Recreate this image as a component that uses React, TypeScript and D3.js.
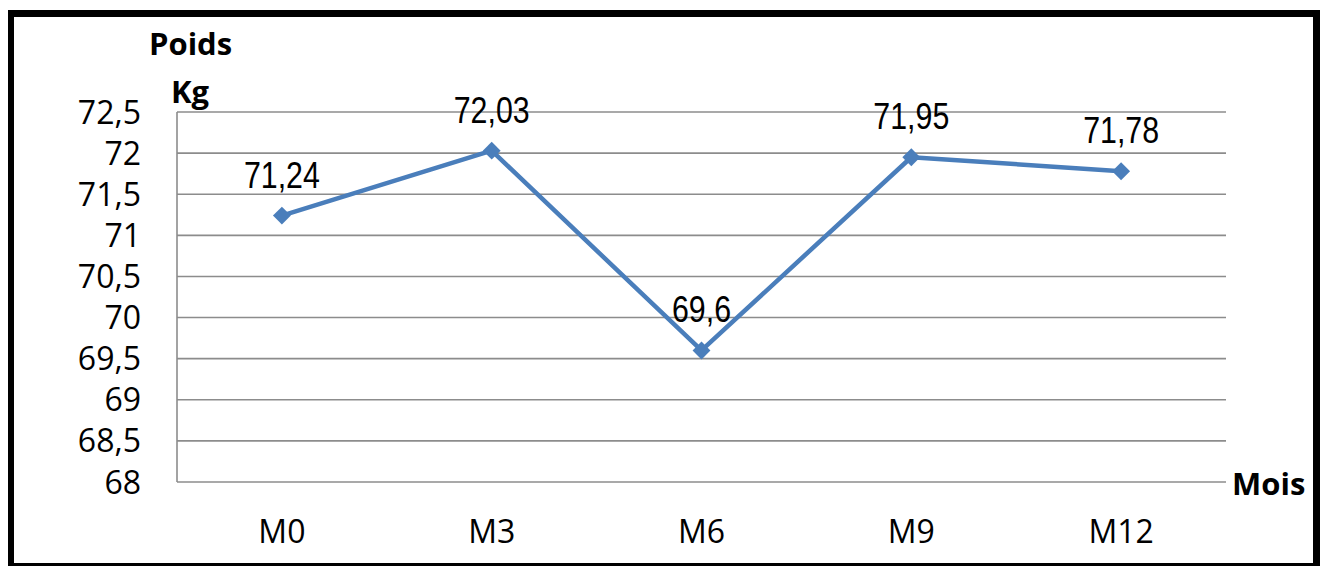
import * as d3 from 'd3';

const months = ['M0', 'M3', 'M6', 'M9', 'M12'];
const weights = [71.24, 72.03, 69.6, 71.95, 71.78];
const yTicks = [68, 68.5, 69, 69.5, 70, 70.5, 71, 71.5, 72, 72.5];

const W = 1322;
const H = 567;
const margin = { top: 112, right: 96, bottom: 85, left: 177 };

const fr = d3.formatLocale({ decimal: ',', thousands: ' ', grouping: [3], currency: ['', ' €'] });
const fmt = (v: number) => fr.format('~g')(v);

function App() {
  const x = d3
    .scaleBand<string>()
    .domain(months)
    .range([margin.left, W - margin.right]);
  const y = d3
    .scaleLinear()
    .domain([68, 72.5])
    .range([H - margin.bottom, margin.top]);
  const cx = (m: string) => (x(m) ?? 0) + x.bandwidth() / 2;

  const line = d3
    .line<number>()
    .x((_, i) => cx(months[i]))
    .y((d) => y(d));

  // square turned 45° = the spreadsheet diamond marker
  const marker = d3.symbol(d3.symbolSquare, 160)();
  const blue = '#4a7ebb';

  return (
    <svg width={W} height={H} style={{ position: 'absolute', left: 0, top: 0 }}>
      <rect x={0} y={0} width={W} height={H} fill="white" />
      {/* frame */}
      <rect x={8} y={10} width={6} height={556} fill="#000" />
      <rect x={8} y={10} width={1312} height={7} fill="#000" />
      <rect x={1313} y={10} width={7} height={556} fill="#000" />
      <rect x={8} y={563} width={1312} height={3} fill="#000" />

      {/* grid */}
      <g stroke="#8c8c8c" strokeWidth={1.6}>
        {yTicks.map((t) => (
          <line key={t} x1={margin.left} x2={W - margin.right} y1={y(t)} y2={y(t)} />
        ))}
        <line x1={margin.left} x2={margin.left} y1={margin.top} y2={H - margin.bottom} />
      </g>

      {/* y labels */}
      <g fontFamily="'Open Sans', sans-serif" fontSize={32} fill="#000" textAnchor="end">
        {yTicks.map((t) => (
          <text key={t} x={141} y={y(t)} dy="0.36em">
            {fmt(t)}
          </text>
        ))}
      </g>

      {/* x labels */}
      <g fontFamily="'Open Sans', sans-serif" fontSize={32} fill="#000" textAnchor="middle">
        {months.map((m) => (
          <text key={m} x={cx(m)} y={543}>
            {m}
          </text>
        ))}
      </g>

      {/* axis titles */}
      <g fontFamily="'Open Sans', sans-serif" fontSize={31} fontWeight="bold" fill="#000">
        <text x={149} y={55}>Poids</text>
        <text x={171} y={103}>Kg</text>
        <text x={1232} y={495}>Mois</text>
      </g>

      {/* series */}
      <path d={line(weights) ?? undefined} fill="none" stroke={blue} strokeWidth={4.5} strokeLinejoin="round" />
      {weights.map((v, i) => (
        <path
          key={i}
          d={marker ?? undefined}
          transform={`translate(${cx(months[i])},${y(v)}) rotate(45)`}
          fill={blue}
        />
      ))}

      {/* data labels */}
      <g fontFamily="'Liberation Sans', sans-serif" fontSize={37} fill="#000" textAnchor="middle">
        {weights.map((v, i) => (
          <text key={i} transform={`translate(${cx(months[i])},${y(v) - 28}) scale(0.82,1)`}>
            {fmt(v)}
          </text>
        ))}
      </g>
    </svg>
  );
}

export default App;
